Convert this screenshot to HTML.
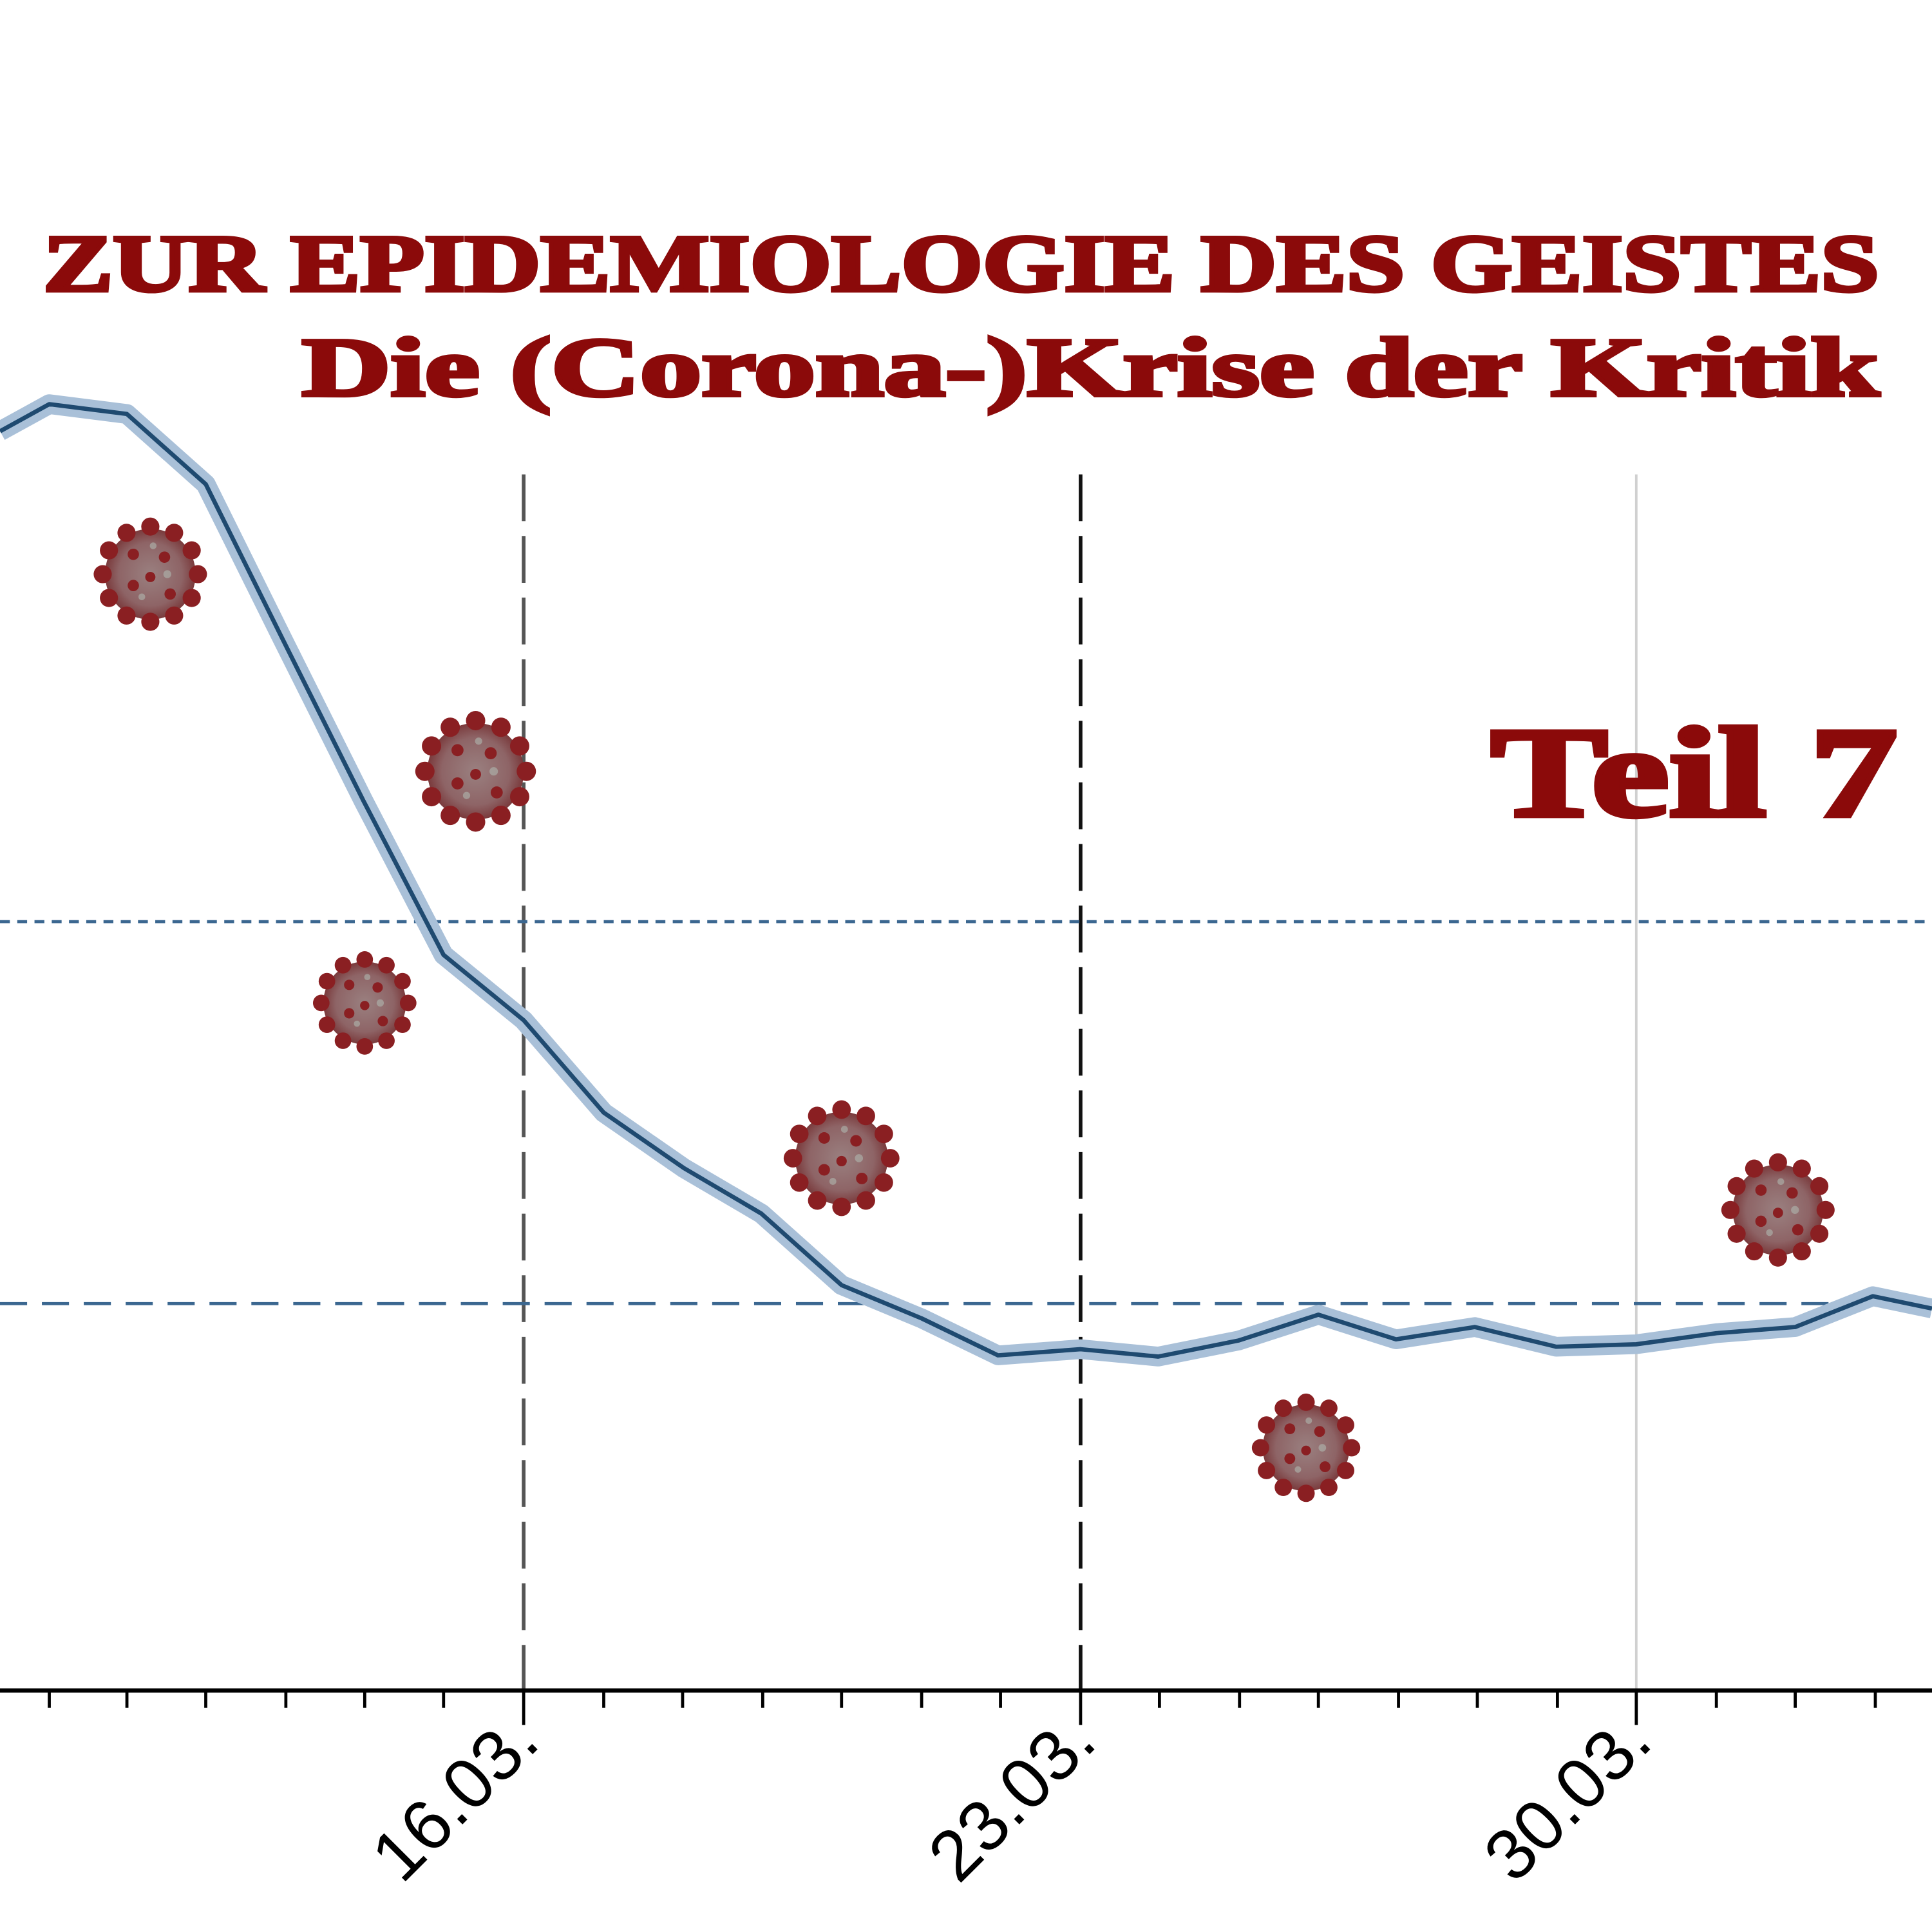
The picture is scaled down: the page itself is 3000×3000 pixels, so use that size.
<!DOCTYPE html>
<html><head><meta charset="utf-8"><style>html,body{margin:0;padding:0;background:#fff}svg{display:block}.tl{font-family:"Liberation Sans",Arial,sans-serif;font-size:58px}</style></head>
<body>
<svg width="3000" height="3000" viewBox="0 0 1568 1568" xmlns="http://www.w3.org/2000/svg">
<defs>
<radialGradient id="vg" cx="50%" cy="50%" r="50%">
<stop offset="0" stop-color="#9a8080"/><stop offset="0.7" stop-color="#8e6466"/><stop offset="1" stop-color="#7a3a3c"/>
</radialGradient>
<g id="virus">
<circle r="0.8" fill="url(#vg)"/>
<g fill="#8a1f22">
<circle cx="0" cy="-0.84" r="0.16"/><circle cx="0.42" cy="-0.73" r="0.16"/><circle cx="0.73" cy="-0.42" r="0.16"/><circle cx="0.84" cy="0" r="0.16"/><circle cx="0.73" cy="0.42" r="0.16"/><circle cx="0.42" cy="0.73" r="0.16"/><circle cx="0" cy="0.84" r="0.16"/><circle cx="-0.42" cy="0.73" r="0.16"/><circle cx="-0.73" cy="0.42" r="0.16"/><circle cx="-0.84" cy="0" r="0.16"/><circle cx="-0.73" cy="-0.42" r="0.16"/><circle cx="-0.42" cy="-0.73" r="0.16"/>
<circle cx="0.25" cy="-0.3" r="0.1"/><circle cx="-0.3" cy="0.2" r="0.1"/><circle cx="0.35" cy="0.35" r="0.1"/><circle cx="-0.3" cy="-0.35" r="0.1"/><circle cx="0" cy="0.05" r="0.09"/>
</g>
<g fill="#b0b8b0" opacity="0.6"><circle cx="0.3" cy="0" r="0.07"/><circle cx="-0.15" cy="0.4" r="0.06"/><circle cx="0.05" cy="-0.5" r="0.06"/></g>
</g>
</defs>
<line x1="425" y1="385" x2="425" y2="1372" stroke="#555" stroke-width="3" stroke-dasharray="38,12"/>
<line x1="877" y1="385" x2="877" y2="1372" stroke="#111" stroke-width="3" stroke-dasharray="38,12"/>
<line x1="1328" y1="385" x2="1328" y2="1372" stroke="#d0d0d0" stroke-width="2"/>
<line x1="0" y1="748" x2="1568" y2="748" stroke="#3b6790" stroke-width="2.5" stroke-dasharray="8,6"/>
<line x1="0" y1="1058" x2="1568" y2="1058" stroke="#3b6790" stroke-width="2.5" stroke-dasharray="22,12"/>
<polyline fill="none" stroke="#a9c0d8" stroke-width="16" stroke-linejoin="round" points="0,350 40,328 103,336 167,393 230,520 295,650 360,775 425,828 490,903 555,948 618,985 683,1043 748,1070 810,1100 877,1095 940,1101 1005,1088 1070,1067 1133,1087 1197,1077 1263,1093 1328,1091 1393,1082 1457,1077 1520,1052 1568,1062"/>
<polyline fill="none" stroke="#1f4a70" stroke-width="3.5" stroke-linejoin="round" points="0,350 40,328 103,336 167,393 230,520 295,650 360,775 425,828 490,903 555,948 618,985 683,1043 748,1070 810,1100 877,1095 940,1101 1005,1088 1070,1067 1133,1087 1197,1077 1263,1093 1328,1091 1393,1082 1457,1077 1520,1052 1568,1062"/>
<line x1="0" y1="1372" x2="1568" y2="1372" stroke="#000" stroke-width="3.5"/>
<g stroke="#000" stroke-width="2.5">
<line x1="40" y1="1372" x2="40" y2="1386"/><line x1="103" y1="1372" x2="103" y2="1386"/><line x1="167" y1="1372" x2="167" y2="1386"/><line x1="232" y1="1372" x2="232" y2="1386"/><line x1="296" y1="1372" x2="296" y2="1386"/><line x1="360" y1="1372" x2="360" y2="1386"/>
<line x1="425" y1="1372" x2="425" y2="1400"/>
<line x1="490" y1="1372" x2="490" y2="1386"/><line x1="554" y1="1372" x2="554" y2="1386"/><line x1="619" y1="1372" x2="619" y2="1386"/><line x1="683" y1="1372" x2="683" y2="1386"/><line x1="748" y1="1372" x2="748" y2="1386"/><line x1="812" y1="1372" x2="812" y2="1386"/>
<line x1="877" y1="1372" x2="877" y2="1400"/>
<line x1="941" y1="1372" x2="941" y2="1386"/><line x1="1006" y1="1372" x2="1006" y2="1386"/><line x1="1070" y1="1372" x2="1070" y2="1386"/><line x1="1135" y1="1372" x2="1135" y2="1386"/><line x1="1199" y1="1372" x2="1199" y2="1386"/><line x1="1264" y1="1372" x2="1264" y2="1386"/>
<line x1="1328" y1="1372" x2="1328" y2="1400"/>
<line x1="1393" y1="1372" x2="1393" y2="1386"/><line x1="1457" y1="1372" x2="1457" y2="1386"/><line x1="1522" y1="1372" x2="1522" y2="1386"/>
</g>
<g class="tl" fill="#000" text-anchor="end">
<text transform="translate(440,1416) rotate(-45)">16.03.</text>
<text transform="translate(892,1416) rotate(-45)">23.03.</text>
<text transform="translate(1343,1416) rotate(-45)">30.03.</text>
</g>
<use href="#virus" transform="translate(122,466) scale(46)"/>
<use href="#virus" transform="translate(386,626) scale(49)"/>
<use href="#virus" transform="translate(296,814) scale(42)"/>
<use href="#virus" transform="translate(683,940) scale(47)"/>
<use href="#virus" transform="translate(1060,1175) scale(44)"/>
<use href="#virus" transform="translate(1443,982) scale(46)"/>
<g style="font-family:'Liberation Serif',serif" font-weight="900" fill="#8b0a0a" stroke="#8b0a0a">
<text x="35" y="236" font-size="66" stroke-width="3" textLength="1490" lengthAdjust="spacingAndGlyphs">ZUR EPIDEMIOLOGIE DES GEISTES</text>
<text x="245" y="321" font-size="68" stroke-width="3" textLength="1280" lengthAdjust="spacingAndGlyphs">Die (Corona-)Krise der Kritik</text>
<text x="1210" y="662" font-size="104" stroke-width="4" textLength="330" lengthAdjust="spacingAndGlyphs">Teil 7</text>
</g>
</svg>
</body></html>
